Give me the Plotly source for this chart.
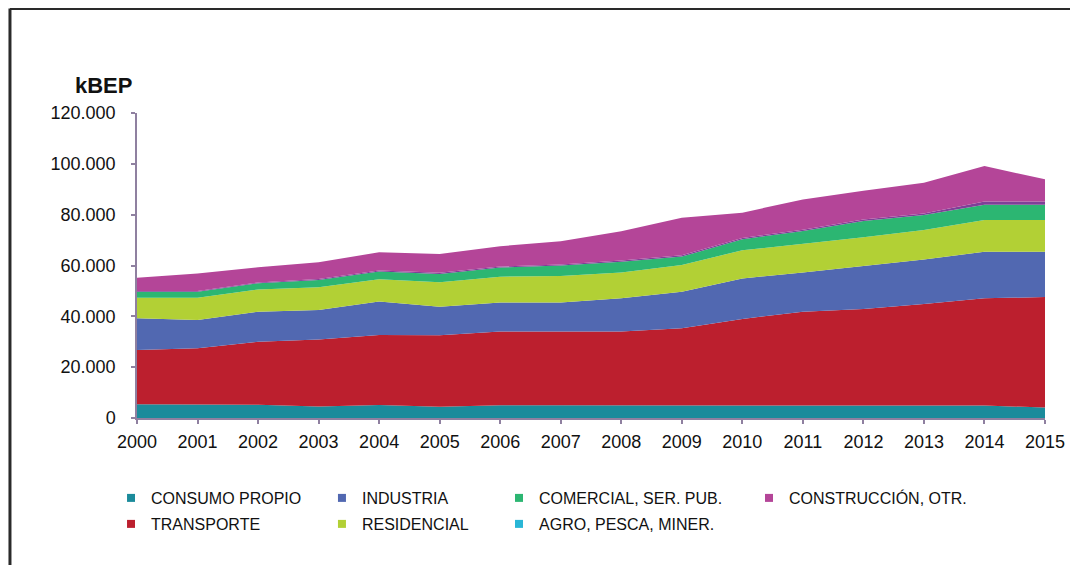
import plotly.graph_objects as go

years = list(range(2000, 2016))

consumo_propio = [5400, 5300, 5200, 4500, 5100, 4400, 5000, 5000, 5000, 5000, 5000, 5000, 5000, 5000, 4900, 4100]
transporte = [21400, 22100, 24800, 26400, 27600, 28200, 29000, 29000, 29000, 30300, 34000, 36800, 37900, 39900, 42200, 43500]
industria = [12400, 11200, 11800, 11600, 13100, 11200, 11400, 11400, 13100, 14400, 15900, 15400, 16900, 17500, 18300, 17800]
residencial = [8100, 8700, 8800, 8900, 8800, 9600, 10200, 10500, 10100, 10500, 11100, 11300, 11300, 11600, 12500, 12500]
comercial = [2400, 2400, 2400, 2900, 3000, 3300, 3600, 4100, 4300, 3300, 4300, 5100, 6400, 5900, 6000, 6000]
agro = [300, 300, 300, 400, 400, 400, 400, 400, 500, 500, 500, 500, 600, 600, 1300, 1300]
construccion = [5200, 6900, 6000, 6600, 7200, 7400, 8000, 9100, 11500, 14800, 10000, 11900, 11300, 12100, 13900, 8700]

y_tickvals = [0, 20000, 40000, 60000, 80000, 100000, 120000]
y_ticktext = ["0", "20.000", "40.000", "60.000", "80.000", "100.000", "120.000"]

# stacking order bottom -> top: (name, values, area colour, legend colour)
series = [
    ("CONSUMO PROPIO", consumo_propio, "#1b8b9b", "#1b8b9b"),
    ("TRANSPORTE", transporte, "#bc1f2e", "#bc1f2e"),
    ("INDUSTRIA", industria, "#5168b1", "#5168b1"),
    ("RESIDENCIAL", residencial, "#b2d035", "#b2d035"),
    ("COMERCIAL, SER. PUB.", comercial, "#2cb672", "#2cb672"),
    ("AGRO, PESCA, MINER.", agro, "#7f3f98", "#29b6d6"),
    ("CONSTRUCCIÓN, OTR.", construccion, "#b44598", "#b44598"),
]

FONT = "Arial, 'Liberation Sans', sans-serif"
fig = go.Figure()

for name, vals, fill, _ in series:
    fig.add_trace(go.Scatter(
        x=years, y=vals, name=name, mode="lines", stackgroup="one",
        line=dict(width=0, color=fill), fillcolor=fill,
        showlegend=False, hoverinfo="skip",
    ))

# legend layout: one legend box per entry (Excel-like column layout)
legend_pos = {
    "CONSUMO PROPIO": (0, 0),
    "INDUSTRIA": (1, 0),
    "COMERCIAL, SER. PUB.": (2, 0),
    "CONSTRUCCIÓN, OTR.": (3, 0),
    "TRANSPORTE": (0, 1),
    "RESIDENCIAL": (1, 1),
    "AGRO, PESCA, MINER.": (2, 1),
}
col_x = [-0.0286, 0.2037, 0.3987, 0.6740]
row_y = [-0.2623, -0.3475]

layout_legends = {}
for i, (name, vals, fill, legcol) in enumerate(series):
    key = "legend" if i == 0 else f"legend{i + 1}"
    c, r = legend_pos[name]
    fig.add_trace(go.Scatter(
        x=[None], y=[None], name=name, mode="markers",
        marker=dict(symbol="square", size=8, color=legcol),
        showlegend=True, legend=key, hoverinfo="skip",
    ))
    layout_legends[key] = dict(
        x=col_x[c], y=row_y[r], xanchor="left", yanchor="middle",
        bgcolor="rgba(0,0,0,0)", borderwidth=0,
        font=dict(family=FONT, size=16, color="#111111"),
    )

axis_col = "#8f80a0"
fig.update_layout(
    width=1070, height=557,
    margin=dict(l=129, r=33, t=105, b=147),
    paper_bgcolor="white", plot_bgcolor="white",
    font=dict(family=FONT, color="#111111"),
    hovermode=False,
    xaxis=dict(
        range=[2000, 2015], tickvals=years, ticktext=[str(y) for y in years],
        showgrid=False, zeroline=False, showline=True, linecolor=axis_col, linewidth=1.5,
        ticks="outside", ticklen=4, tickcolor=axis_col, tickwidth=1.5,
        tickfont=dict(family=FONT, size=18, color="#111111"),
        ticklabelstandoff=3,
    ),
    yaxis=dict(
        range=[0, 120000], tickvals=y_tickvals, ticktext=y_ticktext,
        showgrid=False, zeroline=False, showline=True, linecolor=axis_col, linewidth=1.5,
        ticks="outside", ticklen=4, tickcolor=axis_col, tickwidth=1.5,
        tickfont=dict(family=FONT, size=18, color="#111111"),
        ticklabelstandoff=12,
    ),
    annotations=[dict(
        text="<b>kBEP</b>", xref="paper", yref="paper", x=-0.0374, y=1.0918,
        xanchor="center", yanchor="middle", showarrow=False,
        font=dict(family=FONT, size=22, color="#111111"),
    )],
    shapes=[
        dict(type="line", xref="paper", yref="paper", x0=-0.1399, x1=1.04, y0=1.3426, y1=1.3426,
             line=dict(color="#2a2a2a", width=3)),
        dict(type="line", xref="paper", yref="paper", x0=-0.1399, x1=-0.1399, y0=1.3426, y1=-0.49,
             line=dict(color="#2a2a2a", width=3)),
    ],
    **layout_legends,
)

fig.write_html("out.html")
